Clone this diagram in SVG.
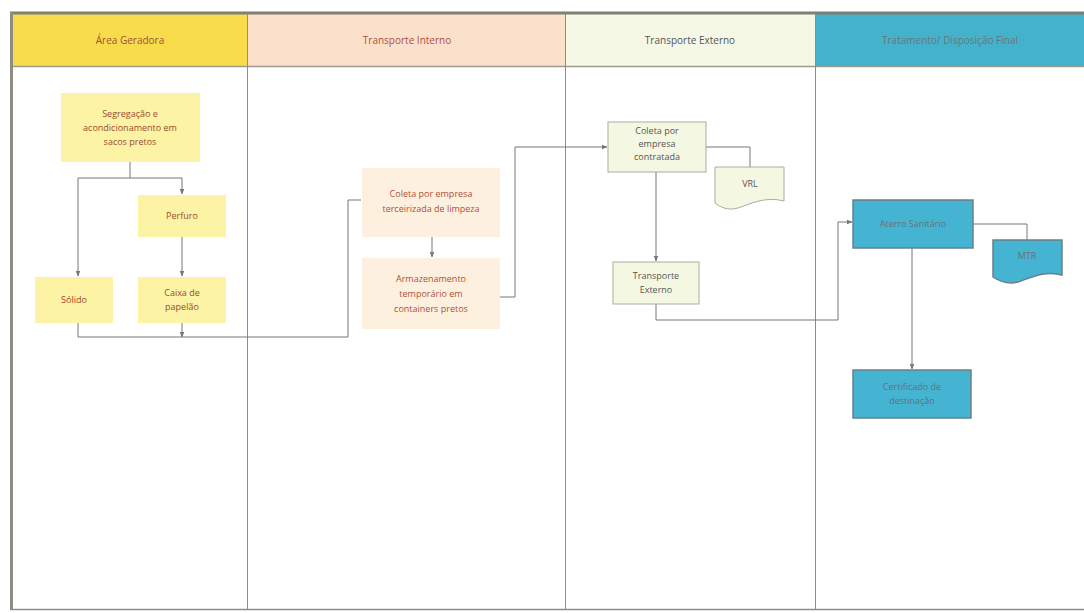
<svg xmlns="http://www.w3.org/2000/svg" width="1084" height="613" viewBox="0 0 1084 613">
<defs>
<marker id="ah" viewBox="0 0 6 6" refX="5.5" refY="3" markerWidth="6" markerHeight="6" orient="auto" markerUnits="userSpaceOnUse">
<path d="M0,0.5 L6,3 L0,5.5 z" fill="#777"/>
</marker>
<style>
text{font-family:"Open Sans","Liberation Sans",sans-serif;font-size:9px;text-anchor:middle;}
.hd{font-size:10px;}
.lane{fill:none;stroke:#8c8c8c;stroke-width:1;}
.y{fill:#fdf3a4;stroke:none;}
.p{fill:#fdf0de;stroke:none;}
.g{fill:#f4f8e2;stroke:#a9ad9c;stroke-width:1;}
.b{fill:#45b3d2;stroke:#6c7f88;stroke-width:1.5;}
.ty{fill:#9b4a2e;}
.tp{fill:#b0503a;}
.tg{fill:#555;}
.tb{fill:#63737a;}
.c{fill:none;stroke:#777;stroke-width:1;}
</style>
</defs>
<rect width="1084" height="613" fill="#fff"/>
<g id="lanes">
<rect x="13" y="14" width="234" height="52" fill="#f8dc4c"/>
<rect x="247" y="14" width="318" height="52" fill="#fbe1cc"/>
<rect x="565" y="14" width="250" height="52" fill="#f5f8e4"/>
<rect x="815" y="14" width="269" height="52" fill="#45b2cb"/>
<line x1="10" y1="13" x2="1084" y2="13" stroke="#7f7f72" stroke-width="3"/>
<line x1="11.5" y1="12" x2="11.5" y2="610" stroke="#8c8c80" stroke-width="3"/>
<line x1="10" y1="609.5" x2="1084" y2="609.5" stroke="#8c8c8c" stroke-width="1.5"/>
<line x1="13" y1="66.5" x2="1084" y2="66.5" stroke="#9a9a8e" stroke-width="1.5"/>
<line x1="247.5" y1="14" x2="247.5" y2="609" class="lane"/>
<line x1="565.5" y1="14" x2="565.5" y2="609" class="lane"/>
<line x1="815.5" y1="14" x2="815.5" y2="609" class="lane"/>
<text x="130" y="44" class="hd" fill="#a0503a">Área Geradora</text>
<text x="407" y="44" class="hd" fill="#b0503a">Transporte Interno</text>
<text x="690" y="44" class="hd" fill="#555">Transporte Externo</text>
<text x="950" y="44" class="hd" fill="#66767d">Tratamento/ Disposição Final</text>
</g>
<g id="connectors">
<path class="c" d="M130,162 V178 M78,178 H182 M78,178 V276" marker-end="url(#ah)"/>
<path class="c" d="M182,178 V194" marker-end="url(#ah)"/>
<path class="c" d="M182,237 V276" marker-end="url(#ah)"/>
<path class="c" d="M78,323 V337 H348 V200 H361 M182,323 V337" marker-end="url(#ah)"/>
<path class="c" d="M432,237 V257" marker-end="url(#ah)"/>
<path class="c" d="M500,297 H515 V147 H607" marker-end="url(#ah)"/>
<path class="c" d="M706,147 H750 V167"/>
<path class="c" d="M656,172 V261" marker-end="url(#ah)"/>
<path class="c" d="M656,304 V320 H838 V222 H852" marker-end="url(#ah)"/>
<path class="c" d="M973,224 H1027 V240"/>
<path class="c" d="M912,248 V369" marker-end="url(#ah)"/>
</g>
<g id="segregacao">
<rect class="y" x="61" y="93" width="139" height="69"/>
<text class="ty" x="130" y="117">Segregação e</text>
<text class="ty" x="130" y="131">acondicionamento em</text>
<text class="ty" x="130" y="145">sacos pretos</text>
</g>
<g id="perfuro">
<rect class="y" x="138" y="195" width="88" height="42"/>
<text class="ty" x="182" y="219">Perfuro</text>
</g>
<g id="solido">
<rect class="y" x="35" y="277" width="78" height="46"/>
<text class="ty" x="74" y="303">Sólido</text>
</g>
<g id="caixa">
<rect class="y" x="138" y="277" width="88" height="46"/>
<text class="ty" x="182" y="296">Caixa de</text>
<text class="ty" x="182" y="310">papelão</text>
</g>
<g id="coleta-terceirizada">
<rect class="p" x="362" y="168" width="138" height="69"/>
<text class="tp" x="431" y="197">Coleta por empresa</text>
<text class="tp" x="431" y="212">terceirizada de limpeza</text>
</g>
<g id="armazenamento">
<rect class="p" x="362" y="258" width="138" height="71"/>
<text class="tp" x="431" y="282">Armazenamento</text>
<text class="tp" x="431" y="297">temporário em</text>
<text class="tp" x="431" y="312">containers pretos</text>
</g>
<g id="coleta-contratada">
<rect class="g" x="608" y="122" width="98" height="50"/>
<text class="tg" x="657" y="134">Coleta por</text>
<text class="tg" x="657" y="147">empresa</text>
<text class="tg" x="657" y="160">contratada</text>
</g>
<g id="vrl">
<path class="g" d="M715,167 H784 V201 C765,196 750,204 738,208 C728,211 720,207 715,203 Z"/>
<text class="tg" x="750" y="187">VRL</text>
</g>
<g id="transporte-externo">
<rect class="g" x="613" y="262" width="86" height="42"/>
<text class="tg" x="656" y="279">Transporte</text>
<text class="tg" x="656" y="293">Externo</text>
</g>
<g id="aterro">
<rect class="b" x="853" y="200" width="120" height="48"/>
<text class="tb" x="913" y="227">Aterro Sanitário</text>
</g>
<g id="mtr">
<path class="b" d="M993,240 H1062 V275 C1045,270 1030,278 1018,282 C1007,285 999,281 993,277 Z"/>
<text class="tb" x="1027" y="259">MTR</text>
</g>
<g id="certificado">
<rect class="b" x="853" y="370" width="118" height="48"/>
<text class="tb" x="912" y="390">Certificado de</text>
<text class="tb" x="912" y="404">destinação</text>
</g>
</svg>
